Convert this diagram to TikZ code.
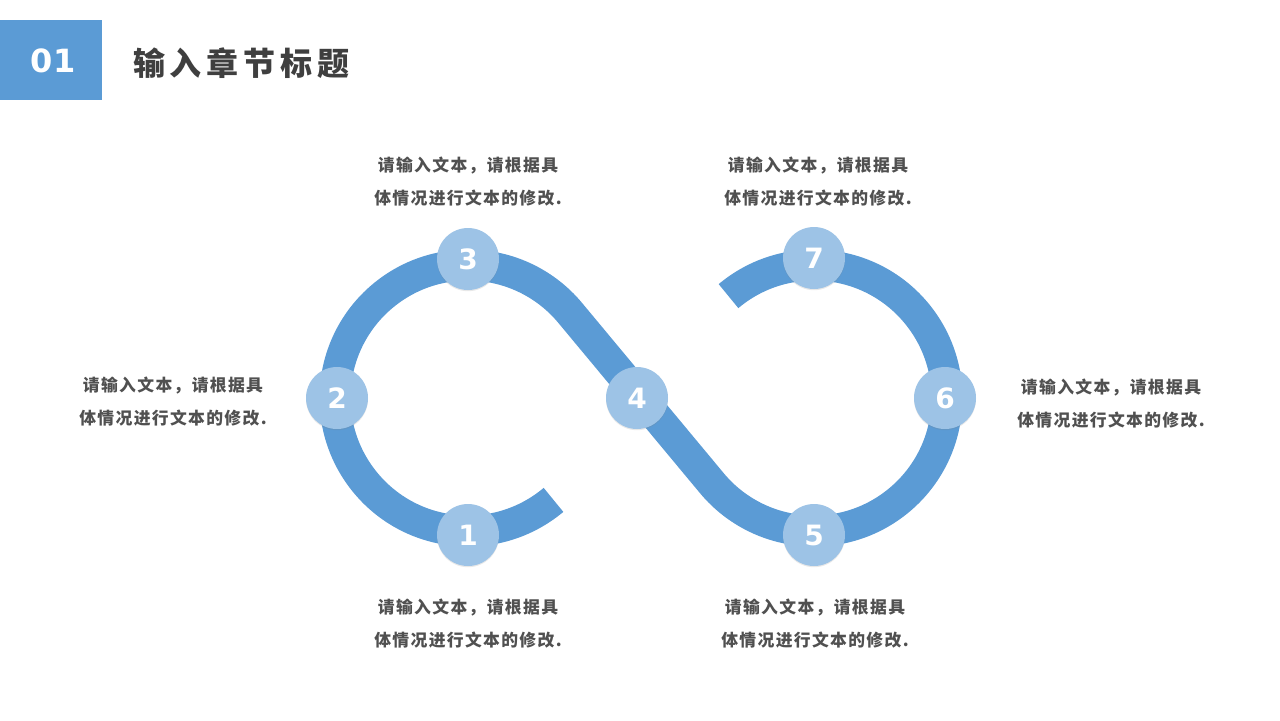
\documentclass[tikz,border=0pt]{standalone}
\usepackage{fontspec}
\usetikzlibrary{shadows,calc}
\newfontfamily\cjktitle{Noto Sans CJK SC}[LetterSpace=15]
\newfontfamily\cjknote{Noto Sans CJK SC}[LetterSpace=8]
\newfontfamily\numfont{DejaVu Sans}
\definecolor{bandblue}{HTML}{5B9BD5}
\definecolor{dotblue}{HTML}{9DC3E6}
\definecolor{notegray}{HTML}{505050}
\definecolor{titlegray}{HTML}{3F3F3F}
\begin{document}
\begin{tikzpicture}[x=0.5pt,y=0.5pt,
    dot/.style={circle,fill=dotblue,minimum size=31pt,inner sep=0pt,text=white,
      font=\numfont\bfseries\fontsize{14}{14}\selectfont,
      drop shadow={shadow xshift=0pt,shadow yshift=-0.6pt,opacity=0.18}},
    note/.style={align=center,text=notegray,
      font=\cjknote\bfseries\fontsize{8.4}{16.5}\selectfont}]
\useasboundingbox[fill=white] (0,0) rectangle (1280,720);
% header
\fill[bandblue] (0,620) rectangle (102,700);
\node[text=white,font=\numfont\bfseries\fontsize{16}{16}\selectfont] (num) at (53,659) {01};
\node[anchor=west,text=titlegray,font=\cjktitle\bfseries\fontsize{16}{16}\selectfont] (title) at (126,657) {输入章节标题};
% infinity band
\coordinate (lc) at (468,322);
\coordinate (rc) at (814,322);
\draw[bandblue,line width=15.5pt] (lc) ++(-50:133) arc[start angle=-50,end angle=-319.73,radius=133]
  -- ($(rc)+(220.27:133)$) arc[start angle=220.27,end angle=490,radius=133];
% numbered dots
\node[dot] (n1) at (468,185) {1};
\node[dot] (n2) at (337,322) {2};
\node[dot] (n3) at (468,461) {3};
\node[dot] (n4) at (637,322) {4};
\node[dot] (n5) at (814,185) {5};
\node[dot] (n6) at (945,322) {6};
\node[dot] (n7) at (814,462) {7};
% notes
\node[note] (t3) at (468,538) {请输入文本，请根据具\\体情况进行文本的修改.};
\node[note] (t7) at (818,538) {请输入文本，请根据具\\体情况进行文本的修改.};
\node[note] (t2) at (173,318) {请输入文本，请根据具\\体情况进行文本的修改.};
\node[note] (t6) at (1111,316) {请输入文本，请根据具\\体情况进行文本的修改.};
\node[note] (t1) at (468,96) {请输入文本，请根据具\\体情况进行文本的修改.};
\node[note] (t5) at (815,96) {请输入文本，请根据具\\体情况进行文本的修改.};
\end{tikzpicture}
\end{document}
